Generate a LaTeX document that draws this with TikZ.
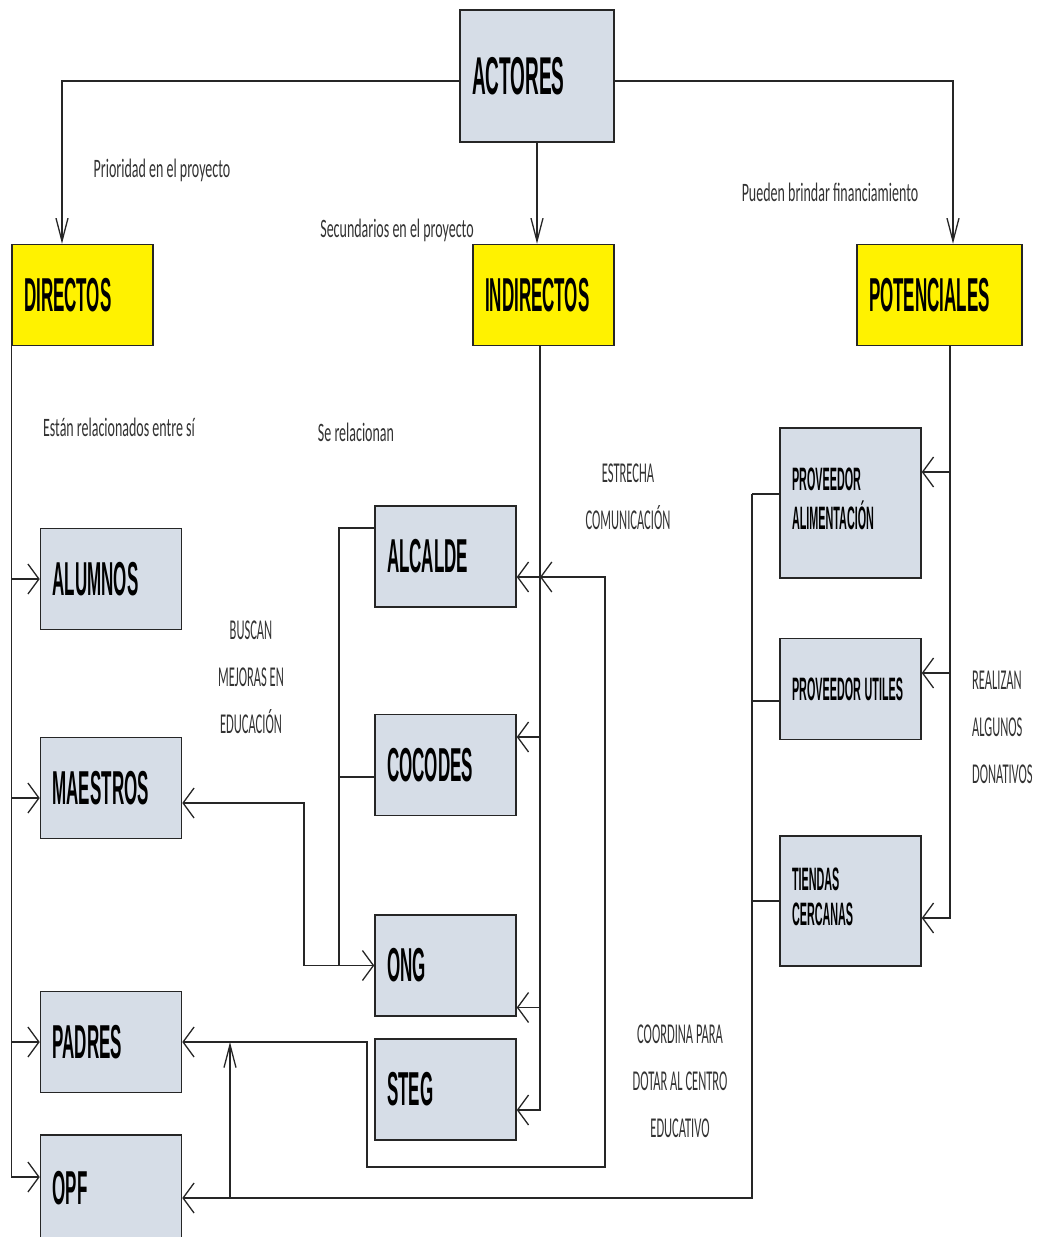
\documentclass[tikz,border=0pt]{standalone}
\usepackage{fontspec}
\usepackage{graphicx}
\setmainfont{Liberation Sans}
\newfontfamily\calibri{Carlito}
\usepackage{tikz}
\usetikzlibrary{arrows.meta, calc}
\definecolor{cajagris}{RGB}{214,221,231}
\newcommand{\alto}[2]{\scalebox{1}[#1]{#2}}
\newcommand{\lineas}[2]{\begin{tabular}{@{}#1@{}}#2\end{tabular}}

\begin{document}
\begin{tikzpicture}[x=1pt, y=-1pt, >={Straight Barb[length=11pt,width=30pt]},
		caja/.style={draw=black!85, line width=1.5pt, fill=cajagris, minimum height=101pt, text width=117pt, inner xsep=12pt, align=left, font=\bfseries\fontsize{17}{20}\selectfont},
		amarilla/.style={caja, fill=yellow},
		prov/.style={caja, font=\bfseries\fontsize{10.8}{11.7}\selectfont},
		nota/.style={font=\calibri\fontsize{14}{16}\selectfont, text=black!80, inner sep=0pt},
		notamay/.style={font=\calibri\fontsize{12.5}{20.4}\selectfont, text=black!80, inner sep=0pt},
		linea/.style={line width=1.3pt, draw=black!85},
		bajada/.style={linea, -{Straight Barb[length=23pt,width=12pt]}}]
			\useasboundingbox (0,0) rectangle (1041,1237);
			\node[caja, text width=130pt, minimum height=132pt, font=\bfseries\fontsize{19}{22}\selectfont] (act) at (537,76) {\alto{2.8}{ACTORES}};
			\node[amarilla] (dir) at (82.5,295) {\alto{2.8}{DIRECTOS}};
			\node[amarilla] (ind) at (543.5,295) {\alto{2.8}{INDIRECTOS}};
			\node[amarilla, text width=141pt] (pot) at (939.5,295) {\alto{2.8}{POTENCIALES}};
			\node[caja] (alu) at (111,579) {\alto{2.8}{ALUMNOS}};
			\node[caja] (mae) at (111,788) {\alto{2.8}{MAESTROS}};
			\node[caja] (pad) at (111,1042) {\alto{2.8}{PADRES}};
			\node[caja, minimum height=106pt] (opf) at (111,1188) {\alto{2.8}{OPF}};
			\node[caja] (alc) at (445.5,556.5) {\alto{2.8}{ALCALDE}};
			\node[caja] (coc) at (445.5,765) {\alto{2.8}{COCODES}};
			\node[caja] (ong) at (445.5,965.5) {\alto{2.8}{ONG}};
			\node[caja] (steg) at (445.5,1089.5) {\alto{2.8}{STEG}};
			\node[prov, minimum height=150pt] (pal) at (850.5,503) {\alto{3}{\lineas{l}{PROVEEDOR\\ALIMENTACIÓN}}};
			\node[prov] (put) at (850.5,689) {\alto{3}{PROVEEDOR UTILES}};
			\node[prov, minimum height=130pt] (tie) at (850.5,901) {\alto{3}{\lineas{l}{TIENDAS\\CERCANAS}}};
			\node[nota] (prio) at (162,170) {\alto{1.9}{Prioridad en el proyecto}};
			\node[nota] (secu) at (397,230) {\alto{1.9}{Secundarios en el proyecto}};
			\node[nota] (fina) at (830,192) {\alto{1.9}{Pueden brindar financiamiento}};
			\node[nota] (rela) at (119,427) {\alto{1.9}{Están relacionados entre sí}};
			\node[nota] (serel) at (356,432) {\alto{1.9}{Se relacionan}};
			\node[notamay] (estr) at (628,497) {\alto{2.3}{\lineas{c}{ESTRECHA\\COMUNICACIÓN}}};
			\node[notamay] (busc) at (251,677) {\alto{2.3}{\lineas{c}{BUSCAN\\MEJORAS EN\\EDUCACIÓN}}};
			\node[notamay] (coord) at (680,1081) {\alto{2.3}{\lineas{c}{COORDINA PARA\\DOTAR AL CENTRO\\EDUCATIVO}}};
			\node[notamay, anchor=west] (dona) at (972,727) {\alto{2.3}{\lineas{l}{REALIZAN\\ALGUNOS\\DONATIVOS}}};
			\coordinate (iv) at ([xshift=-3.5pt]ind.south);
			\coordinate (qv) at ([xshift=10.5pt]pot.south);
			\coordinate (pv) at (752,494);
			\coordinate (sube) at (230,1198);
			\coordinate (alcin) at (540,577);
			\draw[bajada] ([yshift=-5pt]act.west) -| ([xshift=-20.5pt]dir.north);
			\draw[bajada] (act.south) -- (act.south |- ind.north);
			\draw[bajada] ([yshift=-5pt]act.east) -| ([xshift=13.5pt]pot.north);
			\draw[linea, ->] (dir.south west) |- (alu.west);
			\draw[linea, ->] (dir.south west) |- ([yshift=-10pt]mae.west);
			\draw[linea, ->] (dir.south west) |- (pad.west);
			\draw[linea, ->] (dir.south west) |- ([yshift=11pt]opf.west);
			\draw[linea, ->] (iv) |- ([yshift=-20.5pt]alc.east);
			\draw[linea, ->] (iv) |- ([yshift=28pt]coc.east);
			\draw[linea, ->] (iv) |- ([yshift=-42pt]ong.east);
			\draw[linea, ->] (iv) |- ([yshift=-20.5pt]steg.east);
			\draw[linea, <->] (pad.east) -| (367,1167) -| (605,577) -- (alcin);
			\draw[bajada] (sube) -- (sube |- pad.east);
			\draw[linea, <->] ([yshift=-15pt]mae.east) -- (304,803) -- (304,965.5) -- (ong.west);
			\draw[linea] ([yshift=28.5pt]alc.west) -- (339,528) -- (339,965.5);
			\draw[linea] ([yshift=-12pt]coc.west) -- (339,777);
			\draw[linea, ->] (pv) |- ([yshift=-10pt]opf.east);
			\draw[linea] ([yshift=9pt]pal.west) -- (pv);
			\draw[linea] ([yshift=-12pt]put.west) -- +(-28,0);
			\draw[linea] (tie.west) -- +(-28,0);
			\draw[linea, ->] (qv) |- ([yshift=31pt]pal.east);
			\draw[linea, ->] (qv) |- ([yshift=16pt]put.east);
			\draw[linea, ->] (qv) |- ([yshift=-17pt]tie.east);
		\end{tikzpicture}
\end{document}
